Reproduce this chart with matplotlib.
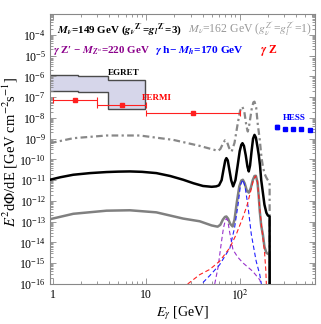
import numpy as np
import matplotlib
matplotlib.use('Agg')
import matplotlib.pyplot as plt
from matplotlib.ticker import LogLocator, LogFormatterMathtext, NullFormatter

plt.rcParams['font.family'] = 'serif'
plt.rcParams['font.serif'] = ['Liberation Serif', 'DejaVu Serif']
plt.rcParams['mathtext.fontset'] = 'stix'

# ---- data (energies in GeV, fluxes as log10 of E^2 dPhi/dE) ----
# M_v = 149 GeV, g = 3 (black solid)
black_E = [0.93, 1.2, 1.65, 2.5, 3.75, 5, 6.65, 9, 12.8, 18, 24.8, 32, 40.4, 50, 56, 60,
           64, 67, 70, 72, 74.5, 77.5, 81, 85, 90, 95, 100, 104, 107, 111, 116, 121, 125,
           129, 134, 139, 144, 149, 155, 160, 165, 170, 177, 184, 193, 200, 209, 209.5]
black_log = [-10.98, -10.86, -10.74, -10.66, -10.61, -10.59, -10.58, -10.6, -10.66, -10.8,
             -10.98, -11.15, -11.28, -11.32, -11.3, -11.25, -11.0, -10.5, -10.05, -9.94,
             -10.05, -10.5, -11.0, -11.3, -11.0, -10.3, -9.6, -9.3, -9.22, -9.35, -9.8,
             -10.35, -10.58, -10.3, -9.6, -9.0, -8.82, -8.95, -9.4, -9.8, -10.3, -11.0,
             -11.6, -12.18, -12.57, -12.7, -12.75, -17.0]

# M_v = 162 GeV, g = 1 (grey dash-dot)
dd_E = [0.93, 1.65, 3.75, 8.5, 19.4, 37.3, 58.6, 62, 66, 69.5, 73, 77, 82, 88, 95, 101,
        106.6, 112, 118, 122, 127, 134, 140, 144, 150, 156, 164, 171, 177, 185, 193, 200,
        209, 209.5]
dd_log = [-9.22, -8.98, -8.85, -8.85, -9.06, -9.35, -9.59, -9.5, -9.25, -9.08, -9.15,
          -9.45, -9.62, -9.2, -8.3, -7.65, -7.46, -7.7, -8.4, -8.66, -8.3, -7.6, -7.25,
          -7.22, -7.5, -8.3, -9.06, -9.9, -10.34, -10.7, -10.88, -11.0, -11.13, -17.0]

# grey solid (total)
grey_E = [0.93, 1.65, 3.75, 6.65, 12.8, 24.8, 37.3, 50, 58, 62, 66, 69.5, 72, 75, 79, 84,
          88, 93.6, 99, 104, 108, 113, 119, 125, 131, 138, 144, 149, 155, 160, 164, 170,
          177, 184, 193, 209, 209.5]
grey_log = [-12.88, -12.62, -12.47, -12.45, -12.55, -12.85, -12.98, -13.18, -13.24, -13.15,
            -12.9, -12.77, -12.75, -12.85, -13.1, -13.23, -12.9, -12.0, -11.3, -11.02,
            -10.98, -11.15, -11.5, -11.6, -11.4, -11.0, -10.8, -10.79, -11.1, -11.8, -12.5,
            -13.2, -13.62, -14.2, -14.5, -14.59, -17.0]

# line components (thin dashed)
zp_E = [54, 58.6, 63.6, 67, 70, 72, 74.5, 78, 84.7, 95, 108, 138, 164, 172]
zp_log = [-16.0, -15.2, -14.0, -13.3, -12.95, -12.85, -12.95, -13.5, -14.35, -14.7, -14.98,
          -15.39, -15.8, -16.1]
h_E = [40.4, 47.7, 61, 78.5, 88, 96, 102, 108, 114, 122, 133, 150, 164, 172]
h_log = [-15.93, -15.6, -15.07, -14.27, -13.3, -12.18, -11.22, -10.98, -11.3, -12.18, -13.6,
         -14.9, -15.55, -16.1]
z_E = [27.7, 37.3, 47.7, 61, 78.5, 92, 108, 120, 130, 140, 148, 155, 160, 165, 175, 184,
       190, 195]
z_log = [-16.0, -15.55, -15.3, -14.9, -14.25, -13.6, -12.8, -12.2, -11.6, -11.0, -10.8,
         -11.1, -11.8, -12.5, -13.6, -14.4, -15.3, -16.5]

# EGRET band
egret_edges = [0.5, 1.86, 3.9, 9.65]
egret_hi_log = [-5.93, -5.98, -6.17]
egret_lo_log = [-6.69, -6.77, -7.58]

# FERMI points
fermi_E = [1.73, 5.48, 31.6]
fermi_lo = [1.0, 3.0, 10.0]
fermi_hi = [3.0, 10.0, 100.0]
fermi_log = [-7.13, -7.375, -7.77]

# HESS points
hess_E = [249, 305, 373, 457, 560, 686]
hess_log = [-8.43, -8.52, -8.54, -8.56, -8.58, -8.6]
hess_err = 0.1

purple = '#8b008b'

fig = plt.figure(figsize=(3.21, 3.24), dpi=100)
ax = fig.add_axes([50/321, 40/324, 265/321, 270/324])
ax.set_xscale('log')
ax.set_yscale('log')

up = 10.0**np.array(egret_hi_log)
lo = 10.0**np.array(egret_lo_log)
ax.stairs(up, egret_edges, baseline=lo, fill=True, color='#d6d6ea', zorder=1)
ax.stairs(up, egret_edges, baseline=lo, fill=False, color='#4a4a4a', lw=1.0, zorder=1.5)

fE = np.array(fermi_E)
ax.errorbar(fE, 10.0**np.array(fermi_log),
            xerr=[fE - np.array(fermi_lo), np.array(fermi_hi) - fE],
            fmt='s', color='#ff2020', ms=2.6, lw=0.8, capsize=2, capthick=0.8, zorder=3)

hE = np.array(hess_E)
hy = 10.0**np.array(hess_log)
ax.errorbar(hE[:1], hy[:1], yerr=[hy[:1] - hy[:1]*10**-hess_err, hy[:1]*10**hess_err - hy[:1]],
            fmt='s', color='blue', ms=2.4, lw=0.8, capsize=1.5, zorder=3)
ax.plot(hE[1:], hy[1:], 's', color='blue', ms=2.4, zorder=3)

ax.plot(grey_E, 10.0**np.array(grey_log), color='#808080', lw=1.8, zorder=2)
ax.plot(zp_E, 10.0**np.array(zp_log), color='#9932cc', lw=0.8, ls=(0, (4, 2.5)), zorder=2.5)
ax.plot(h_E, 10.0**np.array(h_log), color='#2020ff', lw=0.8, ls=(0, (4, 2.5)), zorder=2.5)
ax.plot(z_E, 10.0**np.array(z_log), color='#ff2020', lw=0.8, ls=(0, (4, 2.5)), zorder=2.5)
ax.plot(dd_E, 10.0**np.array(dd_log), color='#888888', lw=1.6, ls=(0, (3, 1.5, 1, 1.5)), zorder=2.6)
ax.plot(black_E, 10.0**np.array(black_log), color='black', lw=1.8, zorder=2.7)

ax.set_xlim(0.93, 640)
ax.set_ylim(1e-16, 1e-3)

ax.set_xticks([1, 10, 100])
ax.set_xticklabels(['1', '10', '$10^2$'])
ax.xaxis.set_minor_locator(LogLocator(base=10, subs=np.arange(2, 10), numticks=50))
ax.xaxis.set_minor_formatter(NullFormatter())
ax.set_yticks(10.0**np.arange(-16, -3))
ax.yaxis.set_major_formatter(LogFormatterMathtext())
ax.yaxis.set_minor_locator(LogLocator(base=10, subs=np.arange(2, 10), numticks=100))
ax.yaxis.set_minor_formatter(NullFormatter())
ax.tick_params(which='both', direction='in', top=True, right=True, color='#888888',
               labelcolor='black', labelsize=8.5, width=0.6)
ax.tick_params(axis='y', pad=3)
ax.tick_params(which='major', length=4)
ax.tick_params(which='minor', length=2)
for s in ax.spines.values():
    s.set_color('#888888')
    s.set_linewidth(0.8)

fig.text(10.5/321, 0.531, r'$E^2$d$\Phi$/dE [GeV cm$^{-2}$s$^{-1}$]', rotation=90,
         ha='center', va='center', fontsize=10.5)
fig.text(182.5/321, 11/324, r'$E_\gamma$ [GeV]', ha='center', va='center', fontsize=10)

# annotations
ax.text(0.026, 0.944, r"$\mathbfit{M_\nu}$=149 GeV ($\mathbfit{g_\nu}^{\mathbf{Z'}}$=$\mathbfit{g_l}^{\mathbf{Z'}}$=3)",
        transform=ax.transAxes, fontsize=7.9, fontweight='bold', va='center', ha='left')
ax.text(0.519, 0.944, r"$M_\nu$=162 GeV ($g_\nu^{Z'}$=$g_l^{Z'}$=1)",
        transform=ax.transAxes, fontsize=8.5, color='#999999', va='center', ha='left')
ax.text(0.011, 0.863, r"$\mathbfit{\gamma}$ Z′ − $\mathbfit{M_{Z'}}$=220 GeV",
        transform=ax.transAxes, fontsize=7.9, fontweight='bold', color=purple, va='center', ha='left')
ax.text(0.396, 0.863, r"$\mathbfit{\gamma}$ h− $\mathbfit{M_h}$=170 GeV",
        transform=ax.transAxes, fontsize=8.2, fontweight='bold', color='blue', va='center', ha='left')
ax.text(0.792, 0.863, r"$\mathbfit{\gamma}$ Z",
        transform=ax.transAxes, fontsize=8.5, fontweight='bold', color='red', va='center', ha='left')
ax.text(0.219, 0.781, 'EGRET', transform=ax.transAxes, fontsize=6.5, fontweight='bold',
        va='center', ha='left')
ax.text(0.346, 0.688, 'FERMI', transform=ax.transAxes, fontsize=6.5, fontweight='bold',
        color='red', va='center', ha='left')
ax.text(0.879, 0.615, 'HESS', transform=ax.transAxes, fontsize=6.5, fontweight='bold',
        color='blue', va='center', ha='left')

fig.savefig('out.png', dpi=100)
